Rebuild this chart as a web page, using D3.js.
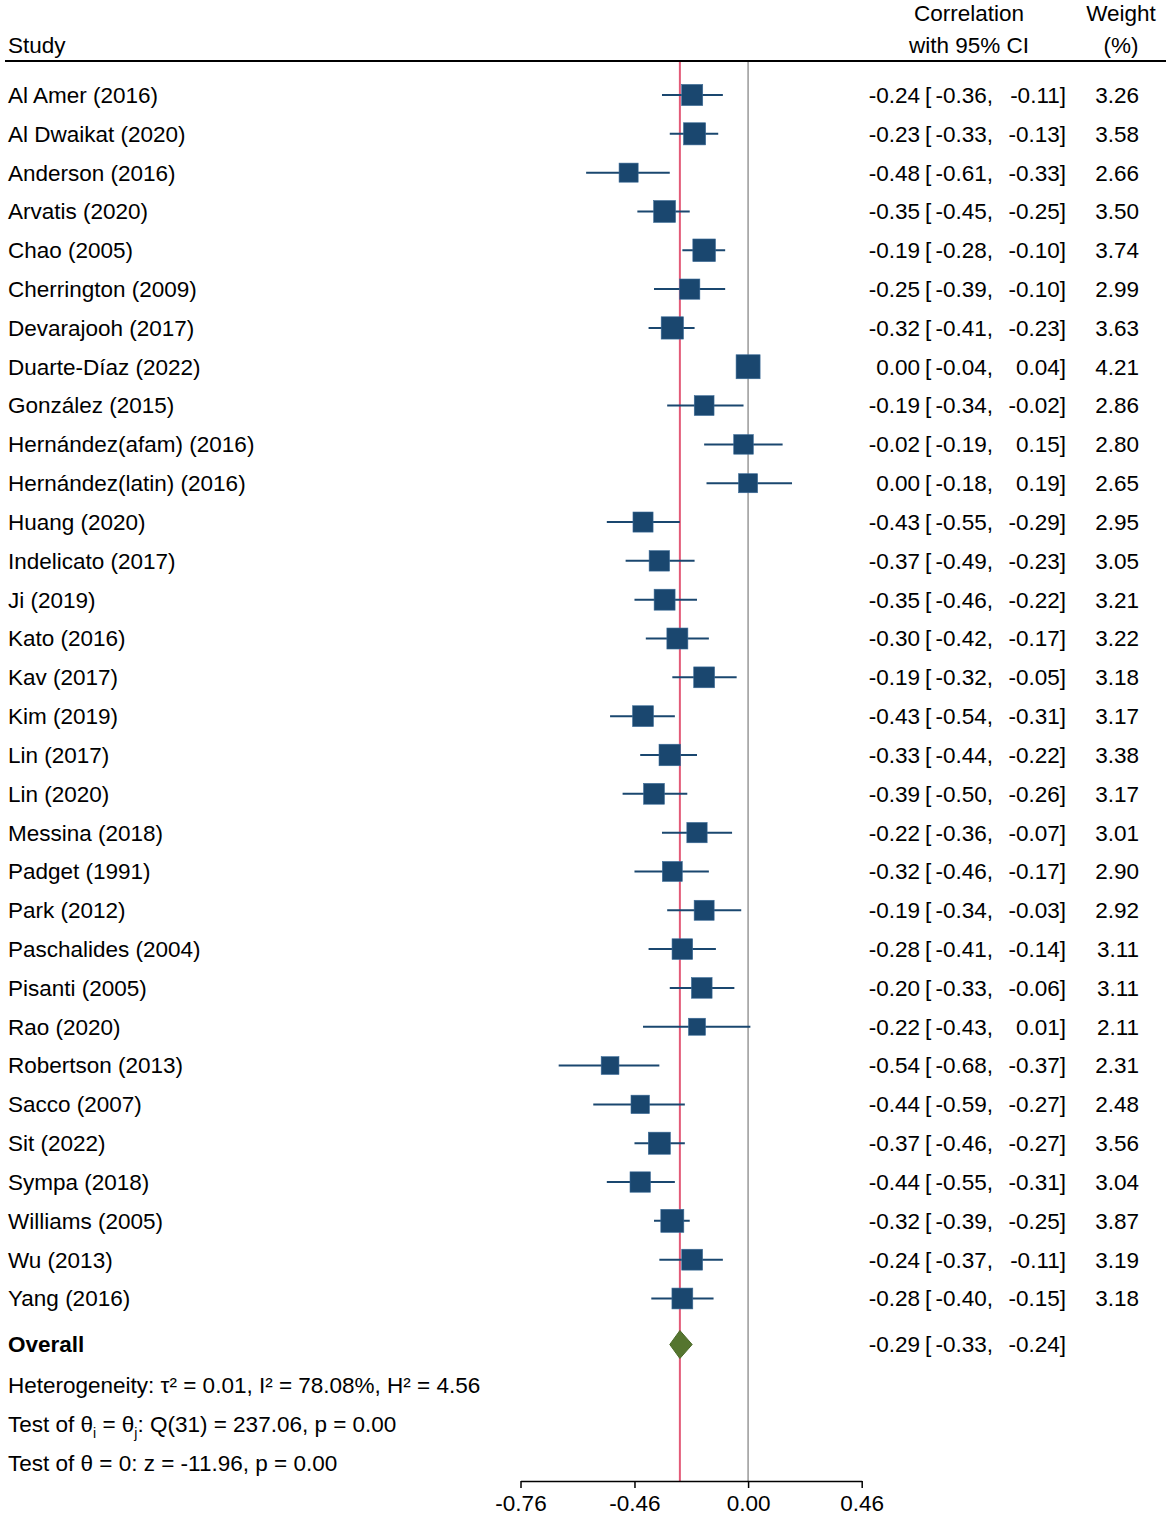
<!DOCTYPE html>
<html lang="en">
<head>
  <meta charset="UTF-8">
  <title>Forest plot</title>
  <script src="https://d3js.org/d3.v7.min.js"></script>
  <style>
    body { margin: 0; background: #fff; }
    text { font-family: "Liberation Sans", Arial, Helvetica, sans-serif; font-size: 22.5px; fill: #000; }
    .axis text { font-size: 22.5px; }
    .axis path, .axis line { stroke: #000; stroke-width: 1.5; }
  </style>
</head>
<body>
  <svg id="chart" width="1170" height="1516"></svg>
  <script>
    // study labels + values
    const studies = [
      'Al Amer (2016)', 'Al Dwaikat (2020)', 'Anderson (2016)', 'Arvatis (2020)',
      'Chao (2005)', 'Cherrington (2009)', 'Devarajooh (2017)', 'Duarte-Díaz (2022)',
      'González (2015)', 'Hernández(afam) (2016)', 'Hernández(latin) (2016)', 'Huang (2020)',
      'Indelicato (2017)', 'Ji (2019)', 'Kato (2016)', 'Kav (2017)',
      'Kim (2019)', 'Lin (2017)', 'Lin (2020)', 'Messina (2018)',
      'Padget (1991)', 'Park (2012)', 'Paschalides (2004)', 'Pisanti (2005)',
      'Rao (2020)', 'Robertson (2013)', 'Sacco (2007)', 'Sit (2022)',
      'Sympa (2018)', 'Williams (2005)', 'Wu (2013)', 'Yang (2016)'
    ];
    const est = [-0.24, -0.23, -0.48, -0.35, -0.19, -0.25, -0.32, 0.00,
                 -0.19, -0.02, 0.00, -0.43, -0.37, -0.35, -0.30, -0.19,
                 -0.43, -0.33, -0.39, -0.22, -0.32, -0.19, -0.28, -0.20,
                 -0.22, -0.54, -0.44, -0.37, -0.44, -0.32, -0.24, -0.28];
    const lower = [-0.36, -0.33, -0.61, -0.45, -0.28, -0.39, -0.41, -0.04,
                   -0.34, -0.19, -0.18, -0.55, -0.49, -0.46, -0.42, -0.32,
                   -0.54, -0.44, -0.50, -0.36, -0.46, -0.34, -0.41, -0.33,
                   -0.43, -0.68, -0.59, -0.46, -0.55, -0.39, -0.37, -0.40];
    const upper = [-0.11, -0.13, -0.33, -0.25, -0.10, -0.10, -0.23, 0.04,
                   -0.02, 0.15, 0.19, -0.29, -0.23, -0.22, -0.17, -0.05,
                   -0.31, -0.22, -0.26, -0.07, -0.17, -0.03, -0.14, -0.06,
                   0.01, -0.37, -0.27, -0.27, -0.31, -0.25, -0.11, -0.15];
    const weights = [3.26, 3.58, 2.66, 3.50, 3.74, 2.99, 3.63, 4.21,
                     2.86, 2.80, 2.65, 2.95, 3.05, 3.21, 3.22, 3.18,
                     3.17, 3.38, 3.17, 3.01, 2.90, 2.92, 3.11, 3.11,
                     2.11, 2.31, 2.48, 3.56, 3.04, 3.87, 3.19, 3.18];
    const overall = { est: -0.29, lo: -0.33, hi: -0.24 };
    const axisTicks = [-0.76, -0.46, 0.00, 0.46];

    const svg = d3.select('#chart');
    const fmt = d3.format('.2f');
    const f2 = (v) => fmt(v).replace('−', '-');

    // plot is on Fisher's z scale, labelled in correlations
    const x = d3.scaleLinear()
      .domain([Math.atanh(axisTicks[0]), Math.atanh(axisTicks[axisTicks.length - 1])])
      .range([520.5, 861.7]);
    const y = d3.scalePoint().domain(studies).range([95, 1298.5]);
    const size = d3.scaleSqrt().domain([0, d3.max(weights)]).range([0, 24]);

    const yOverall = 1344.5;
    const yTop = 62, yAxis = 1481;
    const navy = '#1a476f';

    // header
    svg.append('text').attr('x', 8).attr('y', 45).attr('dy', '0.35em').text('Study');
    svg.append('text').attr('x', 969).attr('y', 13).attr('dy', '0.35em').attr('text-anchor', 'middle').text('Correlation');
    svg.append('text').attr('x', 969).attr('y', 45).attr('dy', '0.35em').attr('text-anchor', 'middle').text('with 95% CI');
    svg.append('text').attr('x', 1121).attr('y', 13).attr('dy', '0.35em').attr('text-anchor', 'middle').text('Weight');
    svg.append('text').attr('x', 1121).attr('y', 45).attr('dy', '0.35em').attr('text-anchor', 'middle').text('(%)');
    svg.append('line').attr('x1', 5).attr('x2', 1166).attr('y1', 61).attr('y2', 61)
      .attr('stroke', '#000').attr('stroke-width', 2);

    // reference lines
    svg.append('line').attr('x1', x(0)).attr('x2', x(0)).attr('y1', yTop).attr('y2', yAxis)
      .attr('stroke', '#999').attr('stroke-width', 1.5);
    svg.append('line').attr('x1', x(Math.atanh(overall.est))).attr('x2', x(Math.atanh(overall.est)))
      .attr('y1', yTop).attr('y2', yAxis)
      .attr('stroke', '#e35a78').attr('stroke-width', 2);

    const rows = studies.map((s, i) => ({ s, e: est[i], lo: lower[i], hi: upper[i], w: weights[i] }));

    // CI whiskers
    svg.append('g').selectAll('line').data(rows).join('line')
      .attr('x1', (d) => x(Math.atanh(d.lo)))
      .attr('x2', (d) => x(Math.atanh(d.hi)))
      .attr('y1', (d) => y(d.s)).attr('y2', (d) => y(d.s))
      .attr('stroke', navy).attr('stroke-width', 2);

    // weight squares
    svg.append('g').selectAll('rect').data(rows).join('rect')
      .attr('x', (d) => x(Math.atanh(d.e)) - size(d.w) / 2)
      .attr('y', (d) => y(d.s) - size(d.w) / 2)
      .attr('width', (d) => size(d.w))
      .attr('height', (d) => size(d.w))
      .attr('fill', navy)
      .attr('stroke', '#3a6a96').attr('stroke-width', 0.6);

    // study labels and text columns
    const txt = svg.append('g');
    const ciText = (yy, e, lo, hi) => {
      txt.append('text').attr('x', 920).attr('y', yy).attr('dy', '0.35em').attr('text-anchor', 'end').text(f2(e));
      txt.append('text').attr('x', 925).attr('y', yy).attr('dy', '0.35em').text('[');
      txt.append('text').attr('x', 993).attr('y', yy).attr('dy', '0.35em').attr('text-anchor', 'end').text(f2(lo) + ',');
      txt.append('text').attr('x', 1066).attr('y', yy).attr('dy', '0.35em').attr('text-anchor', 'end').text(f2(hi) + ']');
    };
    rows.forEach((d) => {
      const yy = y(d.s);
      txt.append('text').attr('x', 8).attr('y', yy).attr('dy', '0.35em').text(d.s);
      ciText(yy, d.e, d.lo, d.hi);
      txt.append('text').attr('x', 1139).attr('y', yy).attr('dy', '0.35em').attr('text-anchor', 'end').text(f2(d.w));
    });

    // overall row
    svg.append('text').attr('x', 8).attr('y', yOverall).attr('dy', '0.35em')
      .attr('font-weight', 'bold').text('Overall');
    const dx0 = x(Math.atanh(overall.lo)), dx1 = x(Math.atanh(overall.hi)), dxm = x(Math.atanh(overall.est));
    svg.append('path')
      .attr('d', `M${dx0},${yOverall} L${dxm},${yOverall - 14} L${dx1},${yOverall} L${dxm},${yOverall + 14} Z`)
      .attr('fill', '#55752f').attr('stroke', '#4a6a28').attr('stroke-width', 1);
    ciText(yOverall, overall.est, overall.lo, overall.hi);

    // heterogeneity / test notes
    svg.append('text').attr('x', 8).attr('y', 1385).attr('dy', '0.35em')
      .text('Heterogeneity: τ² = 0.01, I² = 78.08%, H² = 4.56');
    const t2 = svg.append('text').attr('x', 8).attr('y', 1424).attr('dy', '0.35em');
    t2.append('tspan').text('Test of θ');
    t2.append('tspan').attr('font-size', '14px').attr('dy', '6').text('i');
    t2.append('tspan').attr('dy', '-6').text(' = θ');
    t2.append('tspan').attr('font-size', '14px').attr('dy', '6').text('j');
    t2.append('tspan').attr('dy', '-6').text(': Q(31) = 237.06, p = 0.00');
    svg.append('text').attr('x', 8).attr('y', 1463).attr('dy', '0.35em')
      .text('Test of θ = 0: z = -11.96, p = 0.00');

    // x axis
    const axis = d3.axisBottom(x)
      .tickValues(axisTicks.map((t) => Math.atanh(t)))
      .tickFormat((v) => f2(Math.tanh(v)))
      .tickSize(7)
      .tickSizeOuter(0)
      .tickPadding(7);
    svg.append('g').attr('class', 'axis')
      .attr('transform', `translate(0,${yAxis})`)
      .call(axis)
      .call((g) => g.selectAll('text').attr('fill', '#000').style('font-size', '22.5px'));
  </script>
</body>
</html>
